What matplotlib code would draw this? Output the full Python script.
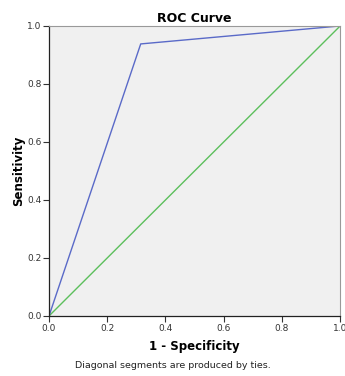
import matplotlib
matplotlib.use("Agg")
from matplotlib import pyplot as plt

# ROC points (1 - specificity, sensitivity)
fpr = [0.0, 0.315, 1.0]
tpr = [0.0, 0.938, 1.0]
ref_line = [0.0, 1.0]
ticks = [0.0, 0.2, 0.4, 0.6, 0.8, 1.0]
tick_labels = ["0.0", "0.2", "0.4", "0.6", "0.8", "1.0"]

plt.rcParams['font.family'] = ['DejaVu Sans']

fig = plt.figure(figsize=(3.45, 3.76), dpi=100)
ax = fig.add_axes([0.142, 0.1596, 0.844, 0.7714])
ax.set_facecolor('#f0f0f0')

ax.plot(ref_line, ref_line, color='#5cbf5c', lw=1.0)
ax.plot(fpr, tpr, color='#5a6ac8', lw=1.0)

ax.set_xlim(0, 1)
ax.set_ylim(0, 1)
ax.set_xticks(ticks)
ax.set_xticklabels(tick_labels)
ax.set_yticks(ticks)
ax.set_yticklabels(tick_labels)
ax.tick_params(direction='out', length=4, width=0.8, labelsize=6.5,
               colors='#333333', pad=1.5)

for side in ['left', 'bottom']:
    ax.spines[side].set_color('#222222')
    ax.spines[side].set_linewidth(0.9)
for side in ['top', 'right']:
    ax.spines[side].set_color('#999999')
    ax.spines[side].set_linewidth(0.8)

ax.set_title('ROC Curve', fontsize=9, fontweight='bold', pad=3)
ax.set_xlabel('1 - Specificity', fontsize=8.5, fontweight='bold', labelpad=5)
ax.set_ylabel('Sensitivity', fontsize=8.5, fontweight='bold', labelpad=1)

fig.text(0.5, 0.029, 'Diagonal segments are produced by ties.',
         ha='center', va='center', fontsize=6.8, color='#222222')

fig.savefig('out.png', dpi=100)
